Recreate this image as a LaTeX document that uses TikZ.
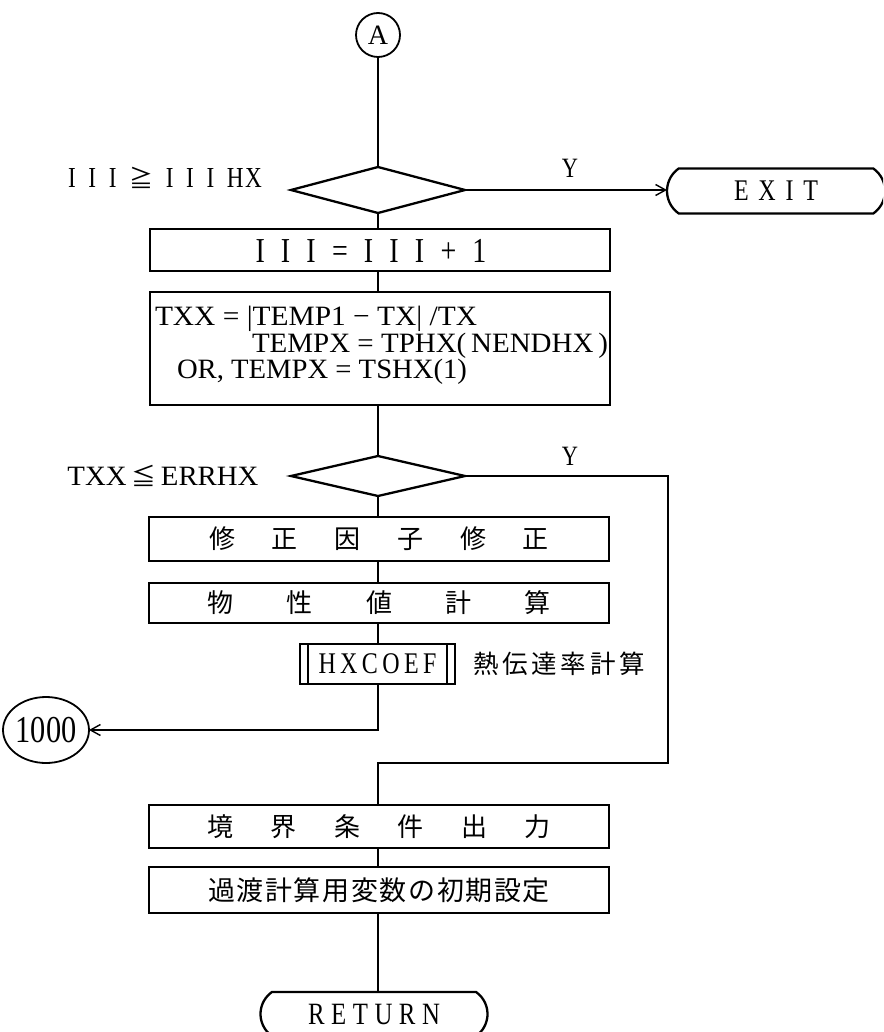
\documentclass[tikz,border=0pt]{standalone}
\usepackage{fontspec}
\usepackage{graphicx}
\setmainfont{Liberation Serif}
\newfontfamily\cond[FakeStretch=0.8]{Liberation Serif}
\newfontfamily\cjk{Noto Sans CJK JP}
\usetikzlibrary{shapes.geometric,shapes.misc,arrows.meta}
\newcommand{\fitt}[3]{\resizebox{#1}{\height}{\fontsize{#2}{#2}\selectfont #3}}
\newcommand{\spreadtx}[3]{{\cond\fontsize{#2}{#2}\selectfont\makebox[#1][s]{#3}}}
\newcommand{\spreadjp}[3]{{\cjk\fontsize{#2}{#2}\selectfont\makebox[#1][s]{#3}}}
\begin{document}
\begin{tikzpicture}[x=1pt,y=-1pt,
  shp/.style={draw,line width=2.3pt,inner sep=0pt,outer sep=0pt},
  boxn/.style={shp,rectangle,minimum width=460pt},
  dia/.style={shp,diamond,minimum width=174pt},
  term/.style={shp,rounded rectangle,rounded rectangle arc length=110},
  ring/.style={draw,line width=1.8pt,inner sep=0pt,outer sep=0pt,ellipse},
  conn/.style={line width=1.6pt},
  arr/.style={conn,-{Straight Barb[length=10pt,width=11pt,line width=1.4pt]}},
  txt/.style={inner sep=0pt,outer sep=0pt,anchor=base},
  jp/.style={inner sep=0pt,outer sep=0pt}
]
\clip (0,0) rectangle (883,1032);
\fill[white] (0,0) rectangle (883,1032);

% start connector
\node[ring,minimum width=44pt,minimum height=44pt] (A) at (378,35) {\fontsize{28pt}{28pt}\selectfont A};

% decision 1
\node[dia,minimum height=46pt] (d1) at (378,190) {};
\node[txt] (l1) at (165,188) {\spreadtx{194pt}{29pt}{I\hfill I\hfill I\hfill{\cjk\fontsize{24pt}{24pt}\selectfont ≧}\hfill I\hfill I\hfill I\hfill H\hspace{1.5pt}X}};
\node[txt] (y1) at (570,178) {{\cond\fontsize{28pt}{28pt}\selectfont Y}};
\node[term,minimum width=218pt,minimum height=45pt] (exit) at (776,191) {\spreadtx{84pt}{30pt}{E\hfill X\hfill I\hfill T}};

% box 1
\node[boxn,minimum height=42pt] (b1) at (380,250) {};
\node[txt] (b1t) at (371,262) {\spreadtx{231pt}{35pt}{I\hfill I\hfill I\hfill =\hfill I\hfill I\hfill I\hfill +\hfill 1}};

% box 2
\node[boxn,minimum height=113pt] (b2) at (380,348.5) {};
\node[txt,anchor=base west] (t1) at (155,325) {\fitt{322pt}{28pt}{TXX = |TEMP1 − TX| /TX}};
\node[txt,anchor=base west] (t2) at (252,352) {\fitt{356pt}{28pt}{TEMPX = TPHX(\,NENDHX\,)}};
\node[txt,anchor=base west] (t3) at (177,378) {\fitt{290pt}{28pt}{OR, TEMPX = TSHX(1)}};

% decision 2
\node[dia,minimum height=40pt] (d2) at (378,476) {};
\node[txt] (l2) at (163,485) {\fitt{191pt}{28pt}{TXX\,{\cjk\fontsize{24pt}{24pt}\selectfont ≦}\,ERRHX}};
\node[txt] (y2) at (570,465) {{\cond\fontsize{28pt}{28pt}\selectfont Y}};

% boxes 3,4
\node[boxn,minimum height=44pt] (b3) at (379,539) {\spreadjp{340pt}{26pt}{修\hfill 正\hfill 因\hfill 子\hfill 修\hfill 正}};
\node[boxn,minimum height=40pt] (b4) at (379,603) {\spreadjp{343pt}{26pt}{物\hfill 性\hfill 値\hfill 計\hfill 算}};

% predefined process
\node[shp,rectangle,minimum width=155pt,minimum height=40pt] (hx) at (377.5,664) {\spreadtx{118pt}{30pt}{H\hfill X\hfill C\hfill O\hfill E\hfill F}};
\draw[line width=1.6pt] ([xshift=8pt]hx.north west) -- ([xshift=8pt]hx.south west);
\draw[line width=1.6pt] ([xshift=-8pt]hx.north east) -- ([xshift=-8pt]hx.south east);
\node[jp] (hxl) at (559,664) {\spreadjp{172pt}{25.5pt}{熱\hfill 伝\hfill 達\hfill 率\hfill 計\hfill 算}};

% off-page connector 1000
\node[ring,minimum width=72pt,minimum height=66pt] (k) at (46,730) {{\cond\fontsize{38pt}{38pt}\selectfont 1000}};

% boxes 5,6
\node[boxn,minimum height=43pt] (b5) at (379,826.5) {\spreadjp{343pt}{26pt}{境\hfill 界\hfill 条\hfill 件\hfill 出\hfill 力}};
\node[boxn,minimum height=46pt] (b6) at (379,890) {\spreadjp{342pt}{27pt}{過\hfill 渡\hfill 計\hfill 算\hfill 用\hfill 変\hfill 数\hfill の\hfill 初\hfill 期\hfill 設\hfill 定}};

% terminal
\node[term,minimum width=227pt,minimum height=44pt] (ret) at (374,1014) {\spreadtx{132pt}{31pt}{R\hfill E\hfill T\hfill U\hfill R\hfill N}};

\coordinate (c2) at (668,763);

% connectors
\draw[conn] (A) -- (d1);
\draw[arr] (d1.east) -- (d1.east -| exit.west);
\draw[conn] (d1.south) -- (d1.south |- b1.north);
\draw[conn] (b1.south -| d1) -- (b2.north -| d1);
\draw[conn] (b2.south -| d1) -- (d2.north);
\draw[conn] (d2.south) -- (d2.south |- b3.north);
\draw[conn] (b3.south -| d2) -- (b4.north -| d2);
\draw[conn] (b4.south -| d2) -- (hx.north -| d2);
\draw[arr] (hx.south -| d2) |- (k.east);
\draw[conn] (d2.east) -| (c2) -| (b5.north -| d2);
\draw[conn] (b5.south -| d2) -- (b6.north -| d2);
\draw[conn] (b6.south -| d2) -- (ret.north -| d2);
\end{tikzpicture}
\end{document}
